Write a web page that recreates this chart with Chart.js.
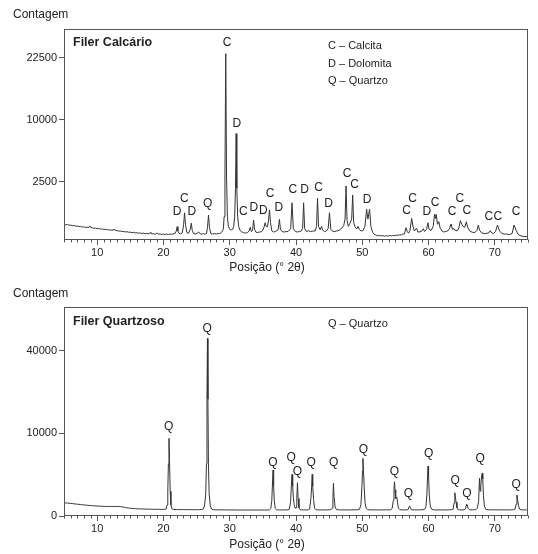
<!DOCTYPE html>
<html><head><meta charset="utf-8">
<script src="https://cdn.jsdelivr.net/npm/chart.js@4/dist/chart.umd.min.js"></script>
<style>
html,body{margin:0;padding:0;background:#fff;}
canvas{display:block;}
</style></head>
<body>
<canvas id="c1" width="538" height="277"></canvas>
<canvas id="c2" width="538" height="277"></canvas>
<script>
// ---------- DATA ----------
const xTicks = [10, 20, 30, 40, 50, 60, 70];
const calcarioYTicks = [2500, 10000, 22500];
const quartzosoYTicks = [0, 10000, 40000];

// [2θ, contagem]
const calcarioPattern = [
[5.00,252],[5.25,236],[5.50,246],[5.75,226],[6.00,232],[6.25,215],[6.50,222],[6.75,204],[7.00,210],[7.25,194],
[7.50,200],[7.75,184],[8.00,190],[8.25,176],[8.50,182],[8.75,176],[8.90,210],[9.05,172],[9.25,170],[9.50,158],
[9.75,164],[10.00,150],[10.25,156],[10.50,142],[10.75,148],[11.00,134],[11.25,141],[11.50,128],[11.75,134],[12.00,121],
[12.25,127],[12.50,124],[12.60,145],[12.75,116],[13.00,117],[13.25,106],[13.50,109],[13.75,99],[14.00,102],[14.25,93],
[14.50,97],[14.75,88],[15.00,91],[15.25,82],[15.50,86],[15.75,78],[16.00,82],[16.25,74],[16.50,78],[16.75,71],
[17.00,75],[17.25,68],[17.50,72],[17.75,67],[18.00,78],[18.10,86],[18.25,64],[18.50,68],[18.75,62],[19.00,72],
[19.10,78],[19.25,60],[19.50,65],[19.75,58],[20.00,63],[20.25,57],[20.50,62],[20.75,58],[21.00,63],[21.25,60],
[21.50,65],[21.75,70],[21.95,110],[22.07,193],[22.18,110],[22.35,72],[22.60,66],[22.85,80],[23.05,250],[23.19,630],
[23.33,240],[23.55,80],[23.80,74],[24.05,140],[24.20,280],[24.35,120],[24.55,70],[24.80,64],[25.10,72],[25.30,95],
[25.50,68],[25.75,63],[26.00,68],[26.25,62],[26.50,68],[26.65,180],[26.80,540],[26.95,170],[27.15,70],[27.40,64],
[27.75,68],[28.00,64],[28.25,71],[28.50,68],[28.75,85],[28.90,110],[29.05,150],[29.15,480],[29.28,3000],[29.40,23500],
[29.52,3000],[29.65,480],[29.80,200],[30.00,140],[30.20,125],[30.45,140],[30.60,200],[30.75,500],[30.87,2000],[30.97,7900],
[31.07,2000],[31.20,500],[31.35,200],[31.55,120],[31.80,95],[32.10,82],[32.40,76],[32.70,84],[32.95,110],[33.10,180],
[33.25,100],[33.45,120],[33.60,370],[33.75,140],[33.95,90],[34.20,84],[34.50,92],[34.75,95],[35.00,120],[35.15,170],
[35.35,292],[35.50,200],[35.70,190],[35.85,350],[36.00,750],[36.15,300],[36.35,110],[36.60,92],[36.90,102],[37.30,130],
[37.50,390],[37.65,140],[37.90,100],[38.20,92],[38.50,98],[38.80,100],[39.20,150],[39.40,1100],[39.60,150],[39.90,100],
[40.20,92],[40.50,100],[40.80,110],[41.00,160],[41.15,1100],[41.30,160],[41.55,100],[41.90,112],[42.20,98],[42.55,108],
[42.90,110],[43.10,200],[43.25,1350],[43.40,200],[43.65,130],[43.85,200],[44.00,130],[44.30,98],[44.60,112],[44.85,150],
[45.05,630],[45.25,140],[45.50,105],[45.80,98],[46.10,108],[46.50,120],[46.90,160],[47.20,220],[47.40,400],[47.55,2180],
[47.70,350],[47.90,200],[48.15,280],[48.40,400],[48.55,1555],[48.70,300],[48.95,170],[49.20,150],[49.35,200],[49.55,140],
[49.80,110],[50.10,115],[50.40,200],[50.65,780],[50.85,400],[51.10,780],[51.30,200],[51.55,90],[51.80,60],[52.10,50],
[52.35,42],[52.60,48],[52.85,40],[53.10,46],[53.35,38],[53.60,45],[53.85,39],[54.10,47],[54.35,41],[54.60,46],
[54.85,44],[55.10,50],[55.35,47],[55.60,54],[55.85,52],[56.10,62],[56.35,64],[56.60,170],[56.80,95],[57.00,75],
[57.20,120],[57.45,420],[57.65,200],[57.85,110],[58.20,160],[58.40,90],[58.70,95],[59.00,110],[59.20,150],[59.40,100],
[59.70,140],[59.90,290],[60.10,130],[60.40,120],[60.70,200],[60.90,570],[61.05,420],[61.15,570],[61.35,250],[61.55,320],
[61.75,160],[62.00,110],[62.30,92],[62.60,102],[62.90,110],[63.15,150],[63.40,258],[63.60,140],[63.85,150],[64.00,120],
[64.30,110],[64.55,160],[64.80,350],[65.00,250],[65.20,200],[65.45,180],[65.70,320],[65.90,180],[66.20,110],[66.60,88],
[67.00,85],[67.30,120],[67.50,232],[67.70,120],[68.00,80],[68.40,68],[68.80,74],[69.10,80],[69.30,114],[69.50,80],
[69.80,72],[70.10,100],[70.40,232],[70.70,110],[71.00,75],[71.40,62],[71.80,64],[72.20,56],[72.60,70],[72.90,232],
[73.20,120],[73.50,60],[73.80,45],[74.10,40],[74.40,34],[74.70,36],[75.00,30]
];

const quartzosoPattern = [
[5.00,262],[5.25,252],[5.50,248],[5.75,238],[6.00,233],[6.25,226],[6.50,218],[6.75,212],[7.00,206],[7.25,198],
[7.50,192],[7.75,186],[8.00,180],[8.25,174],[8.50,170],[8.75,164],[9.00,160],[9.25,156],[9.50,152],[9.75,149],
[10.00,146],[10.25,144],[10.50,140],[10.75,139],[11.00,136],[11.25,135],[11.50,133],[11.75,134],[12.00,132],[12.25,134],
[12.50,131],[12.75,135],[13.00,133],[13.25,136],[13.50,130],[13.75,124],[14.00,115],[14.25,106],[14.50,98],[14.75,92],
[15.00,87],[15.25,84],[15.50,80],[15.75,79],[16.00,76],[16.25,75],[16.50,73],[16.75,73],[17.00,71],[17.25,70],
[17.50,70],[17.75,68],[18.00,68],[18.25,67],[18.50,66],[18.75,66],[19.00,65],[19.25,66],[19.50,64],[19.75,64],
[20.00,65],[20.25,66],[20.40,72],[20.55,180],[20.66,900],[20.75,4000],[20.84,8830],[20.93,4000],[21.02,900],[21.13,180],
[21.30,72],[21.50,64],[21.75,62],[22.00,61],[22.25,60],[22.50,60],[22.75,59],[23.00,60],[23.25,58],[23.50,59],
[23.75,58],[24.00,60],[24.25,58],[24.50,57],[24.75,58],[25.00,59],[25.25,58],[25.50,60],[25.75,62],[26.00,70],
[26.20,150],[26.38,700],[26.49,4000],[26.57,20000],[26.64,46200],[26.71,20000],[26.79,4000],[26.90,700],[27.08,150],[27.30,66],
[27.50,58],[27.75,56],[28.00,56],[28.25,55],[28.50,56],[28.75,55],[29.00,54],[29.25,55],[29.50,54],[29.75,53],
[30.00,54],[30.25,53],[30.50,54],[30.75,53],[31.00,52],[31.25,53],[31.50,52],[31.75,53],[32.00,52],[32.25,52],
[32.50,53],[32.75,52],[33.00,52],[33.25,53],[33.50,52],[33.75,52],[34.00,53],[34.25,52],[34.50,52],[34.75,53],
[35.00,52],[35.25,53],[35.50,52],[35.75,54],[36.00,56],[36.20,80],[36.35,350],[36.45,1500],[36.54,3100],[36.62,1400],
[36.72,350],[36.88,80],[37.05,56],[37.30,54],[37.55,53],[37.80,54],[38.05,53],[38.30,54],[38.55,55],[38.80,56],
[39.00,65],[39.18,300],[39.30,1300],[39.40,2540],[39.50,1300],[39.60,500],[39.72,200],[39.85,90],[40.00,100],[40.12,450],
[40.22,1620],[40.32,450],[40.45,100],[40.60,60],[40.85,55],[41.10,54],[41.35,55],[41.60,54],[41.85,56],[42.05,70],
[42.25,450],[42.36,1300],[42.44,2540],[42.52,1300],[42.65,400],[42.80,90],[43.00,58],[43.25,55],[43.50,54],[43.75,55],
[44.00,54],[44.25,55],[44.50,54],[44.75,55],[45.00,56],[45.25,58],[45.45,90],[45.57,500],[45.65,1560],[45.75,500],
[45.90,120],[46.10,60],[46.35,56],[46.60,55],[46.85,54],[47.10,55],[47.35,54],[47.60,55],[47.85,54],[48.10,55],
[48.35,54],[48.60,55],[48.85,56],[49.10,56],[49.35,58],[49.60,70],[49.80,200],[49.95,1300],[50.03,3000],[50.10,4870],
[50.18,3000],[50.28,1300],[50.42,250],[50.60,80],[50.80,60],[51.05,56],[51.30,55],[51.55,54],[51.80,55],[52.05,54],
[52.30,55],[52.55,54],[52.80,55],[53.05,54],[53.30,55],[53.55,56],[53.80,55],[54.05,56],[54.30,58],[54.50,80],
[54.68,350],[54.78,1100],[54.86,1720],[54.94,1000],[55.04,450],[55.14,500],[55.22,511],[55.32,250],[55.45,90],[55.65,60],
[55.90,56],[56.15,55],[56.40,54],[56.65,55],[56.90,58],[57.05,120],[57.13,146],[57.22,110],[57.40,58],[57.65,55],
[57.90,54],[58.15,55],[58.40,54],[58.65,55],[58.90,56],[59.15,58],[59.40,65],[59.60,120],[59.75,700],[59.85,2500],
[59.92,3655],[60.00,2400],[60.10,700],[60.25,150],[60.45,70],[60.70,57],[60.95,55],[61.20,54],[61.45,55],[61.70,54],
[61.95,55],[62.20,54],[62.45,55],[62.70,54],[62.95,55],[63.20,56],[63.45,57],[63.70,65],[63.85,250],[63.96,794],
[64.06,500],[64.15,280],[64.28,100],[64.45,60],[64.70,56],[64.95,55],[65.20,56],[65.45,57],[65.62,100],[65.72,210],
[65.82,180],[65.95,90],[66.15,57],[66.40,55],[66.65,56],[66.90,57],[67.15,60],[67.35,90],[67.55,300],[67.68,2080],
[67.78,900],[67.88,1300],[68.00,2400],[68.08,2665],[68.18,2000],[68.28,600],[68.42,150],[68.60,70],[68.80,58],[69.05,56],
[69.30,55],[69.55,56],[69.80,55],[70.05,56],[70.30,55],[70.55,56],[70.80,55],[71.05,54],[71.30,55],[71.55,54],
[71.80,55],[72.05,54],[72.30,55],[72.55,56],[72.80,58],[73.05,70],[73.20,200],[73.33,645],[73.45,350],[73.58,150],
[73.75,65],[74.00,56],[74.25,54],[74.50,55],[74.75,54],[75.00,55]
];

// peak labels: [2θ, contagem at label centre, letter]
const calcarioPeakLabels = [
[22.07,674,'D'],[23.17,1351,'C'],[24.27,674,'D'],[26.69,1071,'Q'],[29.61,26400,'C'],[31.06,9450,'D'],
[32.07,674,'C'],[33.63,870,'D'],[35.09,704,'D'],[36.10,1662,'C'],[37.40,870,'D'],[39.51,1937,'C'],
[41.28,1937,'D'],[43.40,2050,'C'],[44.90,1071,'D'],[47.72,3235,'C'],[48.82,2253,'C'],[50.74,1293,'D'],
[56.70,704,'C'],[57.57,1351,'C'],[59.73,674,'D'],[61.00,1104,'C'],[63.56,674,'C'],[64.71,1351,'C'],
[65.77,704,'C'],[69.09,481,'C'],[70.45,481,'C'],[73.22,674,'C']
];
const quartzosoPeakLabels = [
[20.80,11600,'Q'],[26.60,51500,'Q'],[36.50,4150,'Q'],[39.27,5040,'Q'],[40.22,2870,'Q'],[42.28,4150,'Q'],
[45.68,4200,'Q'],[50.18,6500,'Q'],[54.86,2870,'Q'],[56.97,708,'Q'],[60.03,5620,'Q'],[64.00,1790,'Q'],
[65.77,708,'Q'],[67.79,4870,'Q'],[73.22,1405,'Q']
];

const calcarioLegend = ['C – Calcita', 'D – Dolomita', 'Q – Quartzo'];
const quartzosoLegend = ['Q – Quartzo'];

// ---------- SQRT SCALE ----------
class SqrtScale extends Chart.LinearScale {
  _s(v) { return Math.sqrt(Math.max(v, 0)); }
  getPixelForValue(value) {
    if (value === null || value === undefined || isNaN(value)) return NaN;
    const a = this._s(this.min), b = this._s(this.max);
    return this.getPixelForDecimal((this._s(value) - a) / (b - a));
  }
  getValueForPixel(pixel) {
    const a = this._s(this.min), b = this._s(this.max);
    const s = a + this.getDecimalForPixel(pixel) * (b - a);
    return s * s;
  }
}
SqrtScale.id = 'sqrt';
SqrtScale.defaults = Chart.LinearScale.defaults;
Chart.register(SqrtScale);

const FONT = "'Liberation Sans', Arial, sans-serif";
const TXT = '#222';

const decor = {
  id: 'decor',
  afterDraw(chart, args, o) {
    const {ctx, chartArea: a, scales: {x, y}} = chart;
    ctx.save();
    // frame
    ctx.strokeStyle = '#555';
    ctx.lineWidth = 1;
    const L = Math.round(a.left) + 0.5, T = Math.round(a.top) + 0.5;
    const R = Math.round(a.right) - 0.5, B = Math.round(a.bottom) - 0.5;
    ctx.strokeRect(L, T, R - L, B - T);
    // minor x ticks
    ctx.beginPath();
    for (let v = Math.ceil(x.min); v <= x.max; v++) {
      if (v % 10 === 0) continue;
      const px = Math.round(x.getPixelForValue(v)) + 0.5;
      ctx.moveTo(px, B);
      ctx.lineTo(px, B + 3);
    }
    ctx.stroke();
    // y axis title (horizontal, top-left)
    ctx.fillStyle = TXT;
    ctx.textBaseline = 'middle';
    ctx.textAlign = 'left';
    ctx.font = '12px ' + FONT;
    ctx.fillText('Contagem', 13, o.yTitleY);
    // x axis title
    ctx.textAlign = 'center';
    ctx.fillText('Posição (° 2θ)', o.xTitleX, o.xTitleY);
    // panel title
    ctx.textAlign = 'left';
    ctx.font = 'bold 12.5px ' + FONT;
    ctx.fillText(o.panelTitle, a.left + 9, o.panelTitleY);
    // legend text
    ctx.font = '11px ' + FONT;
    o.legend.forEach((t, i) => ctx.fillText(t, o.legendX, o.legendY + i * 17.5));
    // peak labels
    ctx.textAlign = 'center';
    ctx.font = '12px ' + FONT;
    o.peaks.forEach(([px, py, t]) => ctx.fillText(t, x.getPixelForValue(px), y.getPixelForValue(py)));
    ctx.restore();
  }
};

function makeChart(id, pattern, yMin, yMax, yTicks, padTop, xHeight, deco) {
  return new Chart(document.getElementById(id), {
    type: 'line',
    data: {
      datasets: [{
        data: pattern.map(([px, py]) => ({x: px, y: py})),
        borderColor: '#333',
        borderWidth: 1,
        pointRadius: 0,
        tension: 0,
        fill: false
      }]
    },
    options: {
      responsive: false,
      animation: false,
      events: [],
      layout: {padding: {top: padTop, right: 10, left: 0, bottom: 0}},
      plugins: {legend: {display: false}, tooltip: {enabled: false}, decor: deco},
      scales: {
        x: {
          type: 'linear', min: 5, max: 75, bounds: 'data',
          afterBuildTicks: s => { s.ticks = xTicks.map(v => ({value: v})); },
          afterFit: s => { s.height = xHeight; },
          ticks: {callback: v => String(v), color: TXT, font: {family: FONT, size: 11}, padding: 1, maxRotation: 0},
          grid: {drawOnChartArea: false, tickLength: 5, tickColor: '#555'},
          border: {display: false}
        },
        y: {
          type: 'sqrt', min: yMin, max: yMax, bounds: 'data',
          afterBuildTicks: s => { s.ticks = yTicks.map(v => ({value: v})); },
          afterFit: s => { s.width = 64; },
          ticks: {callback: v => String(v), color: TXT, font: {family: FONT, size: 11}, padding: 2},
          grid: {drawOnChartArea: false, tickLength: 5, tickColor: '#555'},
          border: {display: false}
        }
      }
    },
    plugins: [decor]
  });
}

makeChart('c1', calcarioPattern, 10, 30000, calcarioYTicks, 29, 37, {
  panelTitle: 'Filer Calcário', panelTitleY: 43, yTitleY: 15, xTitleX: 267, xTitleY: 268,
  legend: calcarioLegend, legendX: 328, legendY: 46, peaks: calcarioPeakLabels
});
makeChart('c2', quartzosoPattern, 0, 64000, quartzosoYTicks, 30, 38, {
  panelTitle: 'Filer Quartzoso', panelTitleY: 45, yTitleY: 17, xTitleX: 267, xTitleY: 268,
  legend: quartzosoLegend, legendX: 328, legendY: 47, peaks: quartzosoPeakLabels
});
</script>
</body></html>
